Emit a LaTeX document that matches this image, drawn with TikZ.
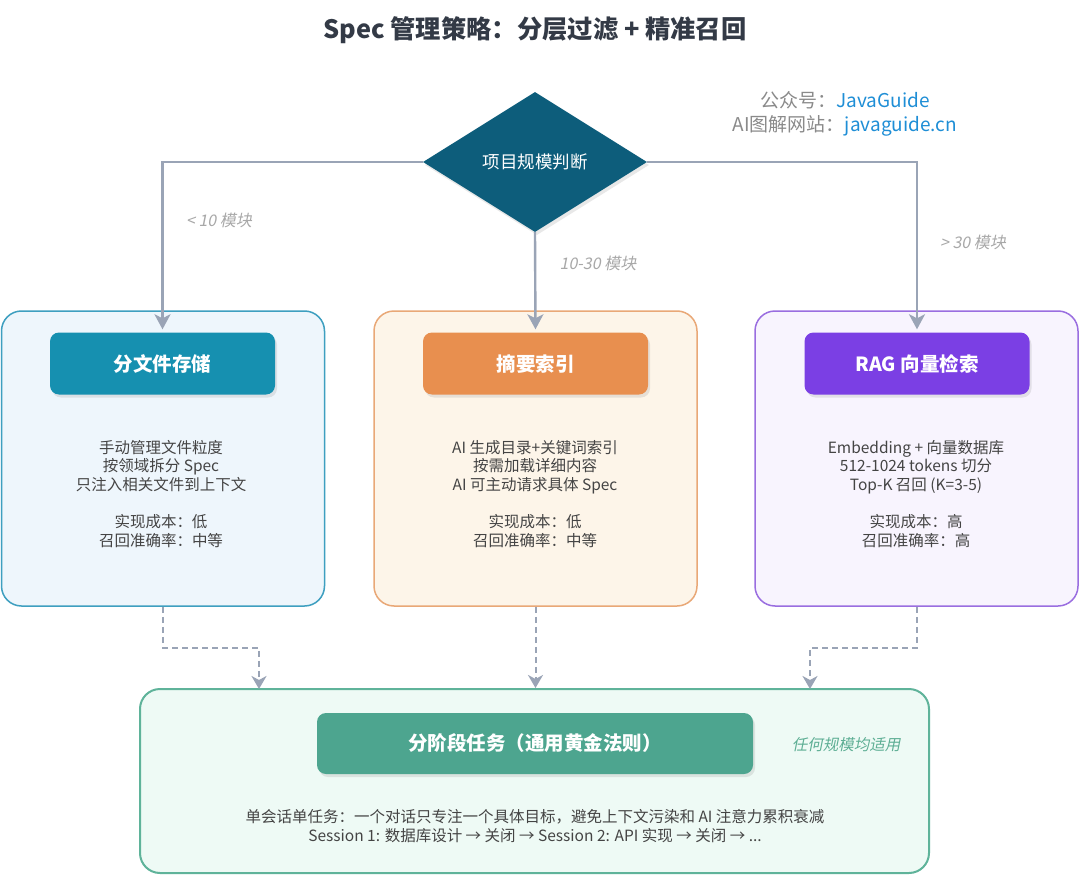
\documentclass[tikz,border=0pt]{standalone}
\usepackage{fontspec}
\setmainfont{Noto Sans CJK SC}
\newfontfamily\slfont[FakeSlant=0.2]{Noto Sans CJK SC}
\usetikzlibrary{shapes.geometric,arrows.meta,shadows}
\definecolor{cTitle}{HTML}{333A46}
\definecolor{cArrow}{HTML}{9AA4B6}
\definecolor{cLabel}{HTML}{A8A8A8}
\definecolor{cBody}{HTML}{444444}
\definecolor{cDia}{HTML}{0D5D7B}
\definecolor{cWmGray}{HTML}{8A8A8A}
\definecolor{cWmBlue}{HTML}{1E8ED6}
\definecolor{cBlueHead}{HTML}{1690B0}
\definecolor{cBlueLine}{HTML}{3E9FC0}
\definecolor{cBlueFill}{HTML}{EEF6FC}
\definecolor{cOrHead}{HTML}{E88F4F}
\definecolor{cOrLine}{HTML}{E9A877}
\definecolor{cOrFill}{HTML}{FDF5E9}
\definecolor{cPuHead}{HTML}{7B3FE4}
\definecolor{cPuLine}{HTML}{9A6EE0}
\definecolor{cPuFill}{HTML}{F8F4FE}
\definecolor{cGrHead}{HTML}{4DA58F}
\definecolor{cGrLine}{HTML}{5FB39A}
\definecolor{cGrFill}{HTML}{EEFAF5}
\definecolor{cGrText}{HTML}{5DAE94}
\tikzset{
  arr/.style={draw=cArrow, line width=2.4pt, -{Stealth[length=15pt,width=16pt,inset=4pt]}, shorten >=3pt},
  darr/.style={draw=cArrow, line width=2pt, dash pattern=on 6pt off 4pt, -{Stealth[length=13pt,width=15pt,inset=4pt]}},
  outerbox/.style={rounded corners=20pt, line width=1.5pt, minimum width=323pt, minimum height=295pt, inner sep=0pt},
  headbox/.style={rounded corners=9pt, minimum width=225pt, minimum height=62pt, inner sep=0pt, text=white,
    font=\bfseries\fontsize{19.5}{22}\selectfont,
    drop shadow={opacity=0.18, shadow xshift=2pt, shadow yshift=-3pt}},
  bodytext/.style={align=center, text=cBody, font=\fontsize{15.5}{18.5}\selectfont, inner sep=0pt},
  lbl/.style={text=cLabel, font=\slfont\fontsize{16}{18}\selectfont, inner sep=0pt},
}
\begin{document}
\begin{tikzpicture}[x=1pt,y=-1pt]
\useasboundingbox[fill=white] (0,0) rectangle (1080,875);

% title
\node[text=cTitle, font=\bfseries\fontsize{25.3}{29}\selectfont, inner sep=0pt] (title) at (535,30) {Spec 管理策略：分层过滤 + 精准召回};

% watermark
\node[align=center, font=\fontsize{19}{23.5}\selectfont, inner sep=0pt] (wm) at (845,114)
  {\textcolor{cWmGray}{公众号：}\textcolor{cWmBlue}{JavaGuide}\\
   \textcolor{cWmGray}{AI图解网站：}\textcolor{cWmBlue}{javaguide.cn}};

% decision diamond
\node[diamond, aspect=1.6, minimum width=224pt, minimum height=140pt, inner sep=0pt, fill=cDia, text=white,
  font=\fontsize{17.5}{20}\selectfont, drop shadow={opacity=0.18, shadow xshift=2pt, shadow yshift=-3pt}] (dia) at (535,162) {项目规模判断};

% outer boxes
\node[outerbox, draw=cBlueLine, fill=cBlueFill] (o1) at (163,458.5) {};
\node[outerbox, draw=cOrLine, fill=cOrFill] (o2) at (535.5,458.5) {};
\node[outerbox, draw=cPuLine, fill=cPuFill] (o3) at (916.5,458.5) {};

% header boxes
\node[headbox, fill=cBlueHead] (h1) at (162.5,363.5) {分文件存储};
\node[headbox, fill=cOrHead] (h2) at (535.5,363.5) {摘要索引};
\node[headbox, fill=cPuHead] (h3) at (917,363.5) {RAG 向量检索};

% body texts
\node[bodytext] (t1) at (161,494) {手动管理文件粒度\\按领域拆分 Spec\\只注入相关文件到上下文\\[19pt]实现成本：低\\召回准确率：中等};
\node[bodytext] (t2) at (535,494) {AI 生成目录+关键词索引\\按需加载详细内容\\AI 可主动请求具体 Spec\\[19pt]实现成本：低\\召回准确率：中等};
\node[bodytext] (t3) at (916,494) {Embedding + 向量数据库\\512-1024 tokens 切分\\Top-K 召回 (K=3-5)\\[19pt]实现成本：高\\召回准确率：高};

% bottom box
\node[rounded corners=20pt, line width=2pt, draw=cGrLine, fill=cGrFill, minimum width=789pt, minimum height=184pt, inner sep=0pt] (bot) at (534.5,781) {};
\node[headbox, fill=cGrHead, minimum width=436pt, minimum height=61pt] (hb) at (535,743.5) {分阶段任务（通用黄金法则）};
\node[text=cGrText, font=\slfont\fontsize{15.5}{18}\selectfont, inner sep=0pt] (any) at (846,745) {任何规模均适用};
\node[bodytext, font=\fontsize{15.5}{19}\selectfont] (tb) at (535,826) {单会话单任务：一个对话只专注一个具体目标，避免上下文污染和 AI 注意力累积衰减\\Session 1: 数据库设计 → 关闭 → Session 2: API 实现 → 关闭 → ...};

% decision arrows
\draw[arr] (dia.west) -| (h1.north);
\draw[arr] (dia.south) -- (h2.north);
\draw[arr] (dia.east) -| (h3.north);
\node[lbl] (l1) at (219,220) {< 10 模块};
\node[lbl] (l2) at (598,263) {10-30 模块};
\node[lbl] (l3) at (973,242) {> 30 模块};

% dashed arrows to bottom
\coordinate (b1) at (259,689);
\coordinate (b3) at (810,689);
\draw[darr] (o1.south) -- ++(0,41) -| (b1);
\draw[darr] (o2.south) -- (o2.south |- bot.north);
\draw[darr] (o3.south) -- ++(0,41) -| (b3);
\end{tikzpicture}
\end{document}
